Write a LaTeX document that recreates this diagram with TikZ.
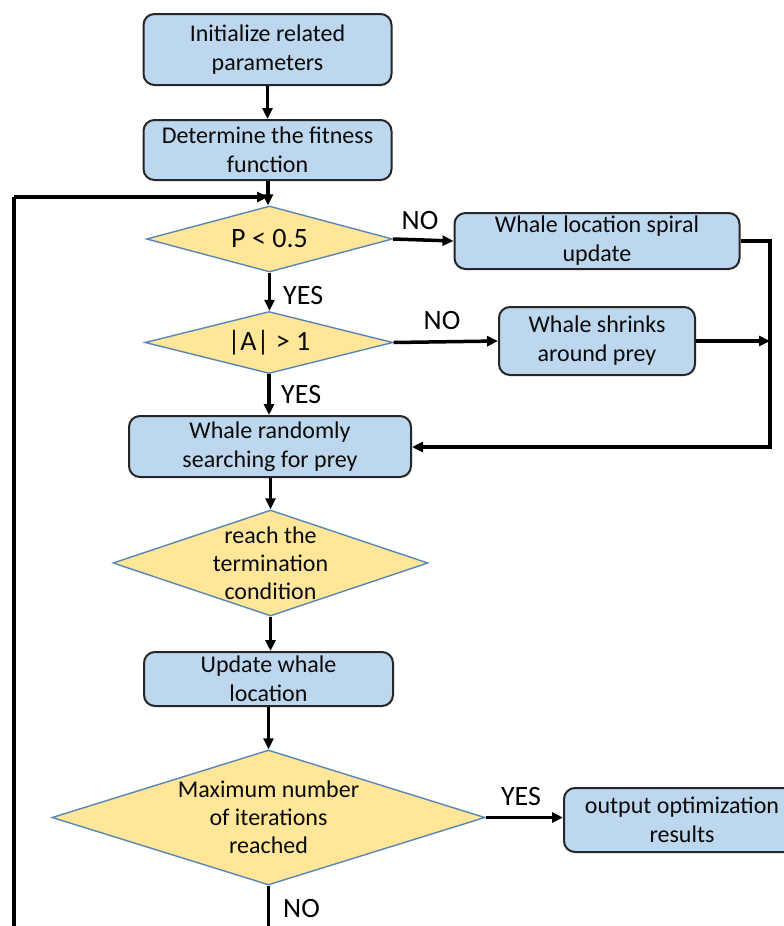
\documentclass[tikz,border=0pt]{standalone}
\usepackage{fontspec}
\setmainfont{Carlito}
\usetikzlibrary{shapes.geometric,arrows.meta}
\definecolor{boxfill}{HTML}{BDD7EE}
\definecolor{boxline}{HTML}{262626}
\definecolor{diafill}{HTML}{FFE699}
\definecolor{dialine}{HTML}{5A86B4}
\definecolor{txt}{HTML}{0A0A0A}
\tikzset{
  box/.style={draw=boxline, fill=boxfill, line width=2pt, rounded corners=11pt, align=center, inner sep=0pt, text=txt, font=\fontsize{24}{29}\selectfont},
  dia/.style={draw=dialine, fill=diafill, line width=1.4pt, diamond, inner sep=0pt},
  diatext/.style={align=center, text=txt, font=\fontsize{24}{28}\selectfont},
  bigtext/.style={text=txt, font=\fontsize{28}{32}\selectfont},
  lbl/.style={text=black, font=\fontsize{28}{32}\selectfont, inner sep=0pt},
  conn/.style={line width=3.5pt, black, -{Triangle[length=11pt,width=10pt]}},
  plain/.style={line width=3.5pt, black}
}
\begin{document}
\begin{tikzpicture}[x=1pt,y=-1pt]
\useasboundingbox (0,0) rectangle (784,926);
\clip (0,0) rectangle (784,926);
\fill[white] (0,0) rectangle (784,926);
% boxes
\node[box, minimum width=248pt, minimum height=71pt] (b1) at (267.5,49.5) {Initialize related\\parameters};
\node[box, minimum width=248pt, minimum height=60pt] (b2) at (267.5,150) {Determine the fitness\\function};
\node[dia, minimum width=246pt, minimum height=66pt] (d1) at (269.5,239) {};
\node[bigtext] at (d1.center) {P < 0.5};
\node[box, minimum width=285pt, minimum height=56pt] (s) at (597,241) {Whale location spiral\\update};
\node[dia, minimum width=248pt, minimum height=62pt] (d2) at (269,342.5) {};
\node[bigtext] at (d2.center) {|A| > 1};
\node[box, minimum width=196pt, minimum height=68pt] (k) at (597,341) {Whale shrinks\\around prey};
\node[box, minimum width=282pt, minimum height=61pt] (b3) at (270,446.5) {Whale randomly\\searching for prey};
\node[dia, minimum width=315pt, minimum height=106pt] (d3) at (270.5,563) {};
\node[diatext] at (d3.center) {reach the\\termination\\condition};
\node[box, minimum width=249pt, minimum height=54pt] (u) at (268.5,679) {Update whale\\location};
\node[dia, minimum width=433pt, minimum height=135pt] (d4) at (268.5,817.5) {};
\node[diatext] at (d4.center) {Maximum number\\of iterations\\reached};
\node[box, minimum width=236pt, minimum height=64pt] (o) at (682,820) {output optimization\\results};
% coordinates
\coordinate (j) at (268,197);
\coordinate (rt) at (770,241);
\coordinate (rb) at (770,447);
\coordinate (rk) at (770,341);
\coordinate (bl) at (268.5,960);
\coordinate (ll) at (14,960);
\coordinate (lt) at (14,197);
% connectors
\draw[conn] (b1.south) -- (b1.south |- b2.north);
\draw[conn] (b2.south -| j) -- (j |- d1.north);
\draw[conn] (lt) -- (j);
\draw[plain] (d4.south) -- (bl) -- (ll) -- (lt);
\draw[conn] (d1.east) -- (s.west);
\draw[conn] (d1.south) -- (d1.south |- d2.north);
\draw[conn] (d2.east) -- (k.west);
\draw[conn] (d2.south) -- (d2.south |- b3.north);
\draw[conn] (k.east) -- (rk);
\draw[conn] (s.east) -- (rt) -- (rb) -- (b3.east |- rb);
\draw[conn] (b3.south -| d3.north) -- (d3.north);
\draw[conn] (d3.south) -- (d3.south |- u.north);
\draw[conn] (u.south) -- (u.south |- d4.north);
\draw[conn] (d4.east) -- (o.west |- d4.east);
% labels
\node[lbl] at (420,221) {NO};
\node[lbl] at (442,321) {NO};
\node[lbl, anchor=west] at (283,296) {YES};
\node[lbl, anchor=west] at (281,395) {YES};
\node[lbl] at (521,797) {YES};
\node[lbl, anchor=west] at (283,908) {NO};
\end{tikzpicture}
\end{document}
